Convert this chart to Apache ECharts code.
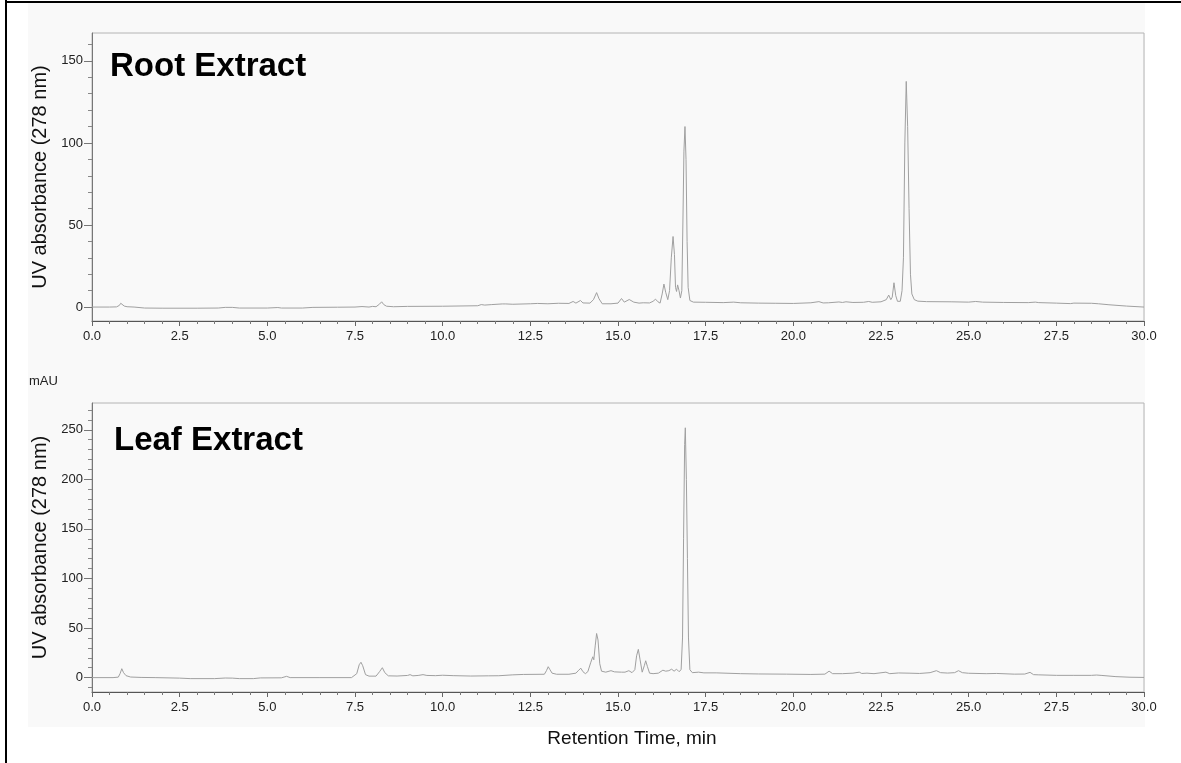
<!DOCTYPE html>
<html><head><meta charset="utf-8">
<script src="https://cdn.jsdelivr.net/npm/echarts@6/dist/echarts.min.js"></script>
<style>html,body{margin:0;padding:0;background:#fff}#c{width:1181px;height:763px}</style>
</head><body><div id="c"></div>
<script>
// Root extract chromatogram (retention time, min / absorbance, mAU)
const rootTime = [0.0,0.5,0.70,0.78,0.82,0.86,0.92,1.0,1.2,1.5,2.0,3.0,3.6,3.8,4.0,4.2,5.0,5.3,5.4,6.0,6.3,7.0,7.5,7.7,7.9,8.0,8.1,8.2,8.26,8.32,8.4,8.6,9.0,10.0,11.0,11.1,11.2,11.4,11.7,11.75,11.8,12.0,12.5,12.7,13.0,13.3,13.6,13.72,13.8,13.93,14.0,14.2,14.3,14.39,14.46,14.55,14.8,15.0,15.1,15.18,15.32,15.45,15.6,15.72,15.9,16.0,16.07,16.14,16.2,16.26,16.31,16.36,16.42,16.47,16.52,16.57,16.61,16.64,16.67,16.70,16.74,16.78,16.82,16.85,16.88,16.91,16.94,16.97,17.0,17.05,17.15,17.5,18.0,18.3,18.5,19.0,19.5,20.0,20.5,20.73,20.85,21.0,21.3,21.4,21.5,21.7,22.0,22.15,22.25,22.5,22.65,22.72,22.78,22.82,22.87,22.92,22.97,23.05,23.1,23.14,23.18,23.22,23.26,23.30,23.34,23.38,23.45,23.55,23.8,24.5,25.0,25.2,25.4,26.0,26.7,26.9,27.0,27.5,27.9,28.0,28.5,28.7,29.0,29.5,30.0];
const rootAbs = [0.0,0.0,0.1,1.0,2.3,1.5,0.6,0.2,0.0,-0.6,-0.7,-0.7,-0.6,-0.2,-0.2,-0.6,-0.6,-0.3,-0.6,-0.6,-0.2,-0.1,0.0,0.3,0.0,0.4,0.2,1.8,3.2,1.5,0.5,0.2,0.4,0.5,0.8,1.5,1.2,1.5,1.9,2.6,1.9,1.7,2.0,2.2,2.0,2.3,2.2,3.4,2.4,4.0,2.5,2.4,4.5,8.8,5.0,2.0,2.0,2.4,5.2,3.0,4.6,3.0,2.4,2.6,2.5,3.5,4.8,3.2,2.4,8.0,14.0,9.0,4.5,10.0,30.0,43.0,32.0,12.0,9.5,13.5,10.0,5.5,10.0,50.0,95.0,110.0,90.0,40.0,12.0,4.0,3.0,2.9,2.7,3.0,2.6,2.4,2.3,2.2,2.6,3.3,2.5,2.6,3.1,2.8,3.2,2.8,2.9,3.4,2.9,3.2,4.5,7.3,4.5,6.0,14.8,7.0,3.5,3.5,10.0,30.0,100.0,137.5,110.0,60.0,20.0,8.0,4.5,3.6,3.3,3.2,3.0,3.4,3.0,2.8,2.7,3.0,2.7,2.4,2.1,2.4,2.3,2.0,1.4,0.6,0.0];

// Leaf extract chromatogram
const leafTime = [0.0,0.6,0.75,0.80,0.85,0.90,0.97,1.1,1.4,1.8,2.5,2.8,3.5,3.8,4.0,4.2,4.6,4.8,5.4,5.55,5.65,6.5,7.4,7.55,7.62,7.67,7.72,7.8,7.9,8.1,8.2,8.28,8.35,8.45,8.7,9.0,9.07,9.15,9.3,9.44,9.55,9.8,10.0,10.3,10.8,11.3,11.6,12.0,12.3,12.9,12.96,13.01,13.06,13.12,13.25,13.6,13.8,13.88,13.94,14.0,14.07,14.14,14.22,14.28,14.31,14.35,14.39,14.43,14.48,14.53,14.65,14.8,14.9,15.1,15.2,15.31,15.4,15.48,15.53,15.58,15.63,15.69,15.75,15.79,15.84,15.9,16.0,16.15,16.28,16.36,16.45,16.53,16.6,16.67,16.74,16.80,16.84,16.87,16.90,16.92,16.95,16.98,17.01,17.05,17.12,17.3,17.45,17.8,18.5,19.0,19.8,20.5,20.9,21.02,21.12,21.4,21.7,21.88,21.95,22.1,22.3,22.64,22.75,23.0,23.3,23.6,23.9,24.08,24.2,24.4,24.6,24.71,24.82,25.0,25.5,25.8,26.3,26.6,26.75,26.85,27.0,27.5,28.0,28.5,28.65,28.8,29.2,29.6,30.0];
const leafAbs = [0.0,0.0,0.5,4.0,9.0,5.0,2.0,0.6,0.2,0.0,-0.5,-1.0,-1.0,-0.4,-0.5,-1.0,-1.0,-0.3,-0.2,1.3,0.0,0.0,0.0,4.0,13.0,15.5,12.0,3.0,1.5,1.5,6.0,10.0,5.0,1.8,1.6,2.2,3.0,1.8,2.2,3.0,2.2,2.0,2.4,2.0,1.6,1.8,1.9,2.8,3.2,3.4,7.0,11.0,8.0,4.5,3.4,3.4,4.5,7.5,9.5,6.0,4.0,6.0,15.0,21.0,18.0,32.0,44.5,38.0,14.0,6.5,5.5,7.0,5.8,5.5,5.5,7.0,5.0,8.0,22.0,28.5,18.0,5.5,12.0,17.0,11.0,4.5,4.0,4.5,7.5,6.5,7.0,8.5,6.5,8.5,6.0,8.0,40.0,140.0,235.0,252.0,200.0,120.0,40.0,8.0,5.0,5.5,4.8,4.8,4.0,3.7,3.5,3.2,3.5,6.5,4.0,4.0,4.5,5.5,4.2,4.5,4.0,5.5,4.0,4.7,4.5,4.2,5.0,7.0,5.0,4.6,5.0,7.0,5.0,4.4,4.0,4.2,3.5,3.6,5.3,3.0,2.8,2.3,2.3,2.3,2.6,2.2,1.0,0.4,0.2];

// Axis ticks
const xTicks = [0,2.5,5,7.5,10,12.5,15,17.5,20,22.5,25,27.5,30];
const rootYTicks = [0,50,100,150];
const rootYMinor = [10,20,30,40,60,70,80,90,110,120,130,140,160];
const leafYTicks = [0,50,100,150,200,250];
const leafYMinor = [-10,10,20,30,40,60,70,80,90,110,120,130,140,160,170,180,190,210,220,230,240,260,270];

const FONT = '"Liberation Sans", Arial, Helvetica, sans-serif';
const pairs = (t, v) => t.map((x, i) => [x, v[i]]);

function xAxisCfg(gridIndex) {
  return {
    type: 'value', gridIndex, min: 0, max: 30, interval: 2.5,
    axisLine: { show: true, onZero: false, lineStyle: { color: '#555', width: 1 } },
    axisTick: { show: true, length: 5, lineStyle: { color: '#666' } },
    minorTick: { show: true, splitNumber: 5, length: 3, lineStyle: { color: '#777' } },
    axisLabel: { customValues: xTicks, margin: 9, color: '#222', fontSize: 13, fontFamily: FONT,
      formatter: v => v.toFixed(1) },
    splitLine: { show: false }, minorSplitLine: { show: false }
  };
}
function yMainCfg(gridIndex, min, max, ticks) {
  return {
    type: 'value', gridIndex, position: 'left', min, max,
    name: 'UV absorbance (278 nm)', nameLocation: 'middle', nameGap: 41, nameRotate: 90,
    nameTextStyle: { fontSize: 20, color: '#111', fontFamily: FONT },
    axisLine: { show: true, onZero: false, lineStyle: { color: '#777', width: 1 } },
    axisTick: { show: true, customValues: ticks, length: 8, lineStyle: { color: '#777' } },
    axisLabel: { customValues: ticks, margin: 9, color: '#222', fontSize: 13, fontFamily: FONT },
    splitLine: { show: false }
  };
}
function yMinorCfg(gridIndex, min, max, ticks) {
  return {
    type: 'value', gridIndex, position: 'left', offset: 0, min, max,
    axisLine: { show: false },
    axisTick: { show: true, customValues: ticks, length: 4, lineStyle: { color: '#888' } },
    axisLabel: { show: false },
    splitLine: { show: false }
  };
}

const chart = echarts.init(document.getElementById('c'), null, { renderer: 'canvas' });
chart.setOption({
  animation: false,
  backgroundColor: '#ffffff',
  grid: [
    { left: 92, top: 33, width: 1052, height: 288, show: true, borderColor: '#b4b4b4', borderWidth: 1, backgroundColor: 'transparent' },
    { left: 92, top: 403, width: 1052, height: 289, show: true, borderColor: '#b4b4b4', borderWidth: 1, backgroundColor: 'transparent' }
  ],
  xAxis: [xAxisCfg(0), xAxisCfg(1)],
  yAxis: [
    yMainCfg(0, -8.5, 167, rootYTicks),
    yMinorCfg(0, -8.5, 167, rootYMinor),
    yMainCfg(1, -14.5, 277, leafYTicks),
    yMinorCfg(1, -14.5, 277, leafYMinor)
  ],
  series: [
    { type: 'line', xAxisIndex: 0, yAxisIndex: 0, data: pairs(rootTime, rootAbs), showSymbol: false,
      lineStyle: { color: '#a0a0a0', width: 1 }, z: 5 },
    { type: 'line', xAxisIndex: 1, yAxisIndex: 2, data: pairs(leafTime, leafAbs), showSymbol: false,
      lineStyle: { color: '#a0a0a0', width: 1 }, z: 5 }
  ],
  graphic: [
    { type: 'rect', z: -10, silent: true, shape: { x: 28, y: 3, width: 1117, height: 724 }, style: { fill: '#f9f9f9' } },
    { type: 'rect', z: 50, silent: true, shape: { x: 5, y: 0, width: 2, height: 763 }, style: { fill: '#000' } },
    { type: 'rect', z: 50, silent: true, shape: { x: 5, y: 1, width: 1176, height: 2 }, style: { fill: '#000' } },
    { type: 'text', z: 50, style: { x: 110, y: 67, text: 'Root Extract', font: 'bold 33px ' + FONT, fill: '#000', textVerticalAlign: 'middle' } },
    { type: 'text', z: 50, style: { x: 114, y: 441, text: 'Leaf Extract', font: 'bold 33px ' + FONT, fill: '#000', textVerticalAlign: 'middle' } },
    { type: 'text', z: 50, style: { x: 29, y: 381, text: 'mAU', font: '13px ' + FONT, fill: '#222', textVerticalAlign: 'middle' } },
    { type: 'text', z: 50, style: { x: 632, y: 739, text: 'Retention Time, min', font: '19px ' + FONT, fill: '#111', textAlign: 'center', textVerticalAlign: 'middle' } }
  ]
});
</script>
</body></html>
